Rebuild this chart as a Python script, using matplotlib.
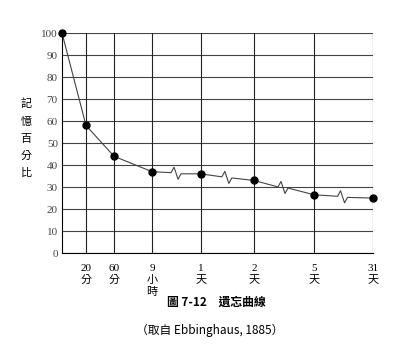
import numpy as np
import matplotlib.pyplot as plt

plt.rcParams['font.family'] = ['Liberation Serif', 'Noto Sans CJK TC']

# data
labels = ["", "20\n分", "60\n分", "9\n小\n時", "1\n天", "2\n天", "5\n天", "31\n天"]
retention = [100, 58, 44, 37, 36, 33, 26.5, 25]
xpos = [0, 24, 52, 90, 139, 192, 252, 311]   # spacing along the axis
breaks_after = [3, 4, 5, 6]                  # zigzag break between these and next

fig = plt.figure(figsize=(4.0, 3.55), dpi=100)
ax = fig.add_axes([0.155, 0.287, 0.7775, 0.62])

# grid
for y in range(0, 101, 10):
    ax.plot([xpos[0], xpos[-1]], [y, y], color="#444444", lw=0.8, zorder=1)
for x in xpos[1:]:
    ax.plot([x, x], [0, 100], color="#222222", lw=0.8, zorder=1)

# curve with break marks
lx, ly = [xpos[0]], [retention[0]]
for i in range(1, len(xpos)):
    if i - 1 in breaks_after:
        x0, x1 = xpos[i - 1], xpos[i]
        y0, y1 = retention[i - 1], retention[i]
        f = 0.45
        xm = x0 + f * (x1 - x0)
        ym = y0 + f * (y1 - y0)
        lx += [xm - 3, xm, xm + 4, xm + 7]
        ly += [ym, ym + 2.5, ym - 3, ym - 0.5]
    lx.append(xpos[i])
    ly.append(retention[i])
ax.plot(lx, ly, color="#444444", lw=0.8, zorder=2)
ax.plot(xpos, retention, "o", color="black", ms=5, zorder=3, clip_on=False)

ax.set_xlim(xpos[0], xpos[-1])
ax.set_ylim(0, 100)
ax.set_yticks(range(0, 101, 10))
ax.tick_params(axis="y", length=0, labelsize=8, pad=3, colors="#444444")
ax.set_xticks(xpos)
ax.set_xticklabels(labels, fontsize=8, linespacing=1.25, va="top",
                   family=['Liberation Serif', 'Noto Sans CJK TC'])
ax.tick_params(axis="x", length=0, pad=8)
for s in ["top", "right"]:
    ax.spines[s].set_visible(False)
ax.spines["left"].set_linewidth(0.8)
ax.spines["bottom"].set_linewidth(0.8)

fig.text(0.065, 0.61, "記\n憶\n百\n分\n比", fontsize=8, ha="center", va="center",
         linespacing=1.9, family="Noto Sans CJK TC")
fig.text(0.54, 0.148, "圖 7-12　遺忘曲線", fontsize=8.5, ha="center", va="center",
         weight="bold", family=["Noto Sans CJK TC"])
fig.text(0.525, 0.07, "（取自 Ebbinghaus, 1885）", fontsize=8.5, ha="center", va="center",
         family=["Noto Sans CJK TC"])

fig.savefig("out.png", dpi=100)
